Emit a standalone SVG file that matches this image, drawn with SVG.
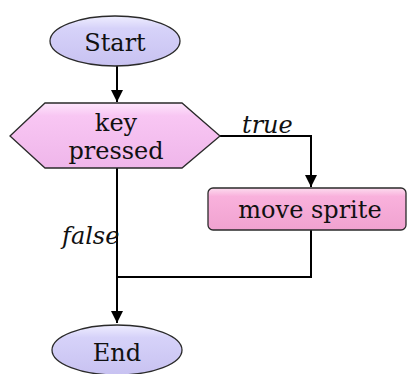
<svg xmlns="http://www.w3.org/2000/svg" width="407" height="374" viewBox="0 0 407 374">
<defs>
<linearGradient id="gOval" x1="0" y1="0" x2="0" y2="1">
<stop offset="0" stop-color="#efeeff"/>
<stop offset="0.25" stop-color="#d6d2f9"/>
<stop offset="1" stop-color="#c8c2f1"/>
</linearGradient>
<linearGradient id="gHex" x1="0" y1="0" x2="0" y2="1">
<stop offset="0" stop-color="#fde6fb"/>
<stop offset="0.2" stop-color="#f8c6f3"/>
<stop offset="1" stop-color="#efb6ea"/>
</linearGradient>
<linearGradient id="gBox" x1="0" y1="0" x2="0" y2="1">
<stop offset="0" stop-color="#fddcef"/>
<stop offset="0.2" stop-color="#f9b1dc"/>
<stop offset="1" stop-color="#f0a2d0"/>
</linearGradient>
<marker id="arr" markerWidth="12" markerHeight="12" refX="12" refY="6" orient="auto" markerUnits="userSpaceOnUse">
<path d="M0,0 L12,6 L0,12 Z" fill="#000"/>
</marker>
</defs>
<style>
.shape{stroke:#2a2a2a;stroke-width:1.3}
.lbl{font-family:'DejaVu Serif','Liberation Serif',serif;font-size:24px;fill:#111;text-anchor:middle}
.it{font-family:'DejaVu Serif','Liberation Serif',serif;font-size:24px;font-style:italic;fill:#111}
.conn{stroke:#000;stroke-width:2;fill:none}
</style>
<g id="connectors">
<path class="conn" d="M117,66 V102" marker-end="url(#arr)"/>
<path class="conn" d="M220,136 H311 V187" marker-end="url(#arr)"/>
<path class="conn" d="M311,230 V277 H118"/>
<path class="conn" d="M117,168 V323" marker-end="url(#arr)"/>
<text class="it" x="242" y="133">true</text>
<text class="it" x="62" y="244">false</text>
</g>
<g id="start">
<ellipse class="shape" cx="115" cy="41" rx="65" ry="25" fill="url(#gOval)"/>
<text class="lbl" x="115" y="51">Start</text>
</g>
<g id="key-pressed">
<polygon class="shape" points="10,136 45,103 182,103 220,136 182,168 45,168" fill="url(#gHex)"/>
<text class="lbl" x="116" y="131">key</text>
<text class="lbl" x="116" y="159">pressed</text>
</g>
<g id="move-sprite">
<rect class="shape" x="208" y="188" width="198" height="42" rx="5" fill="url(#gBox)"/>
<text class="lbl" x="310" y="218">move sprite</text>
</g>
<g id="end">
<ellipse class="shape" cx="117" cy="350" rx="65" ry="25" fill="url(#gOval)"/>
<text class="lbl" x="117" y="361">End</text>
</g>
</svg>
